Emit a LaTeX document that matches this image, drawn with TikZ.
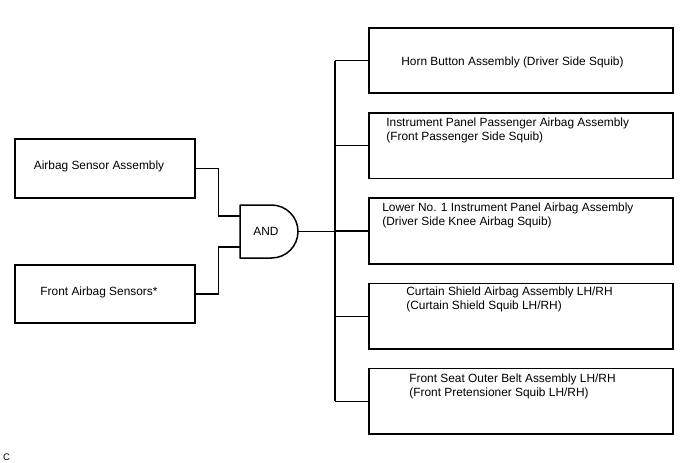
\documentclass[tikz,border=0pt]{standalone}
\usepackage{fontspec}
\setmainfont{Liberation Sans}
\usetikzlibrary{positioning,calc}
\tikzset{
  wire/.style={line width=1.2pt, draw=black},
  squib/.style={draw=black, line width=1.7pt, minimum width=304pt, minimum height=65.5pt, inner sep=0pt},
  sensor/.style={draw=black, line width=1.7pt, minimum width=180pt, minimum height=58.5pt, inner sep=0pt},
  boxtext/.style={font=\fontsize{11.9}{14}\selectfont, align=left, inner sep=0pt},
  andgate/.style={rectangle, minimum width=58pt, minimum height=53pt, inner sep=0pt, outer sep=0pt,
    font=\fontsize{11.9}{14}\selectfont},
  gateline/.style={draw=black, line width=1.5pt, line join=round}
}

\begin{document}
\begin{tikzpicture}[x=1pt, y=-1pt, node distance=18pt]
  \useasboundingbox (0,0) rectangle (688,463);

  % Inputs and gate.
  \node[sensor, label={[boxtext, xshift=-6pt, yshift=2pt]center:{Airbag Sensor Assembly}}] (asa) at (105,168.5) {};
  \node[sensor, label={[boxtext, xshift=-6pt, yshift=2pt]center:{Front Airbag Sensors*}}] (fas) at (105,294) {};
  \node[andgate] (gate) at (269,231.5) {\hspace*{-6pt}AND};
  \draw[gateline] (gate.north west) -- ($(gate.north east)+(-26.5,0)$)
    arc[start angle=-90, end angle=90, radius=26.5] -- (gate.south west) -- cycle;

  % Deployment loads.
  \node[squib, label={[boxtext, anchor=west, xshift=33pt, yshift=-1.5pt]west:{Horn Button Assembly (Driver Side Squib)}}] (horn) at (521,60.5) {};
  \node[squib, below=of horn, label={[boxtext, anchor=north west, xshift=18pt, yshift=-5.5pt]north west:{Instrument Panel Passenger Airbag Assembly\\(Front Passenger Side Squib)}}] (pass) {};
  \node[squib, below=of pass, label={[boxtext, anchor=north west, xshift=14pt, yshift=-5pt]north west:{Lower No. 1 Instrument Panel Airbag Assembly\\(Driver Side Knee Airbag Squib)}}] (knee) {};
  \node[squib, below=of knee, label={[boxtext, anchor=north west, xshift=38pt, yshift=-4.5pt]north west:{Curtain Shield Airbag Assembly LH/RH\\(Curtain Shield Squib LH/RH)}}] (curt) {};
  \node[squib, below=of curt, label={[boxtext, anchor=north west, xshift=41pt, yshift=-5.5pt]north west:{Front Seat Outer Belt Assembly LH/RH\\(Front Pretensioner Squib LH/RH)}}] (belt) {};

  \node[font=\fontsize{9.5}{11}\selectfont, anchor=west, inner sep=0pt] (figid) at (3,457) {C};

  % Wiring.
  \draw[wire] (asa.east) -- ++(23,0) |- ($(gate.west)+(0,-15.5)$);
  \draw[wire] (fas.east) -- ++(23,0) |- ($(gate.west)+(0,15.5)$);
  \draw[wire] (gate.east) -- ++(37,0) coordinate (bus);
  \draw[wire] (horn.west -| bus) -- (belt.west -| bus);
  \foreach \b in {horn,pass,knee,curt,belt}
    \draw[wire] (\b.west -| bus) -- (\b.west);
\end{tikzpicture}
\end{document}
